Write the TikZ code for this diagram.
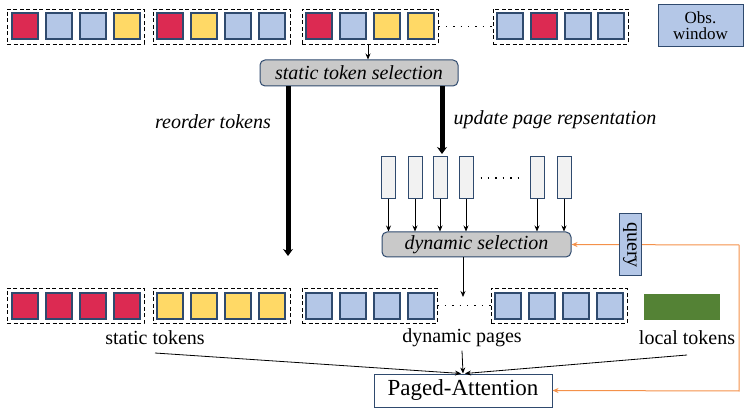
\documentclass[tikz,border=0pt]{standalone}
\usepackage{fontspec}
\setmainfont{Liberation Serif}
\usetikzlibrary{arrows.meta,calc}
\definecolor{tred}{HTML}{DC2A52}
\definecolor{tyel}{HTML}{FFD966}
\definecolor{tblu}{HTML}{B4C7E7}
\definecolor{tbord}{HTML}{2F4A6E}
\definecolor{selgray}{HTML}{C9C9C9}
\definecolor{pagegray}{HTML}{F2F2F2}
\definecolor{tgreen}{HTML}{548235}
\definecolor{qorange}{HTML}{F4914A}
\tikzset{
  tok/.style={draw=tbord, line width=1.1pt, minimum width=26pt, minimum height=26pt, inner sep=0pt},
  grp/.style={draw, line width=0.9pt, dash pattern=on 4pt off 2.5pt, inner sep=0pt, minimum height=35pt},
  selbox/.style={draw=tbord, fill=selgray, rounded corners=5pt, line width=1pt, inner sep=0pt, font=\fontsize{20}{22}\selectfont\itshape},
  pagebox/.style={draw=tbord, fill=pagegray, line width=1pt, minimum width=14pt, minimum height=42pt, inner sep=0pt},
  arr/.style={-{Stealth[length=6pt,width=5pt]}, line width=0.8pt},
  thick arr/.style={-{Stealth[length=7pt,width=10pt]}, line width=5pt},
  oarr/.style={-{Stealth[length=6pt,width=5pt]}, line width=1pt, draw=qorange},
  dots/.style={line width=1.4pt, dash pattern=on 1.4pt off 6pt},
  lbl/.style={font=\fontsize{20}{22}\selectfont},
  ilbl/.style={font=\fontsize{20}{22}\selectfont\itshape},
}
\begin{document}
\begin{tikzpicture}[x=1pt,y=-1pt]
\useasboundingbox (0,0) rectangle (748,409);
% top row
\node[grp, minimum width=137pt] (tg1) at (75.5,26.5) {};
\node[grp, minimum width=137pt] (tg2) at (221.5,26.5) {};
\node[grp, minimum width=136pt] (tg3) at (370,26.5) {};
\node[grp, minimum width=135pt] (tg4) at (560.5,26.5) {};
\foreach \x/\c [count=\i] in {25/tred,59/tblu,93/tblu,127/tyel,170/tred,204/tyel,238/tblu,272/tblu,319/tred,353/tblu,387/tyel,421/tyel,510/tblu,544/tred,578/tblu,611/tblu}
  \node[tok, fill=\c] (t\i) at (\x,26) {};
\draw[dots] (tg3.east) -- (tg4.west);
% obs window
\node[draw=tbord, fill=tblu, line width=1pt, minimum width=85pt, minimum height=42pt, inner sep=0pt, align=center, font=\fontsize{17}{16}\selectfont] (obs) at (700.5,26) {Obs.\\window};
% static token selection
\node[selbox, minimum width=198pt, minimum height=26pt] (sts) at (359,73) {static token selection};
\coordinate (tg3b) at (368,44);
\draw[arr] (tg3b) -- (tg3b |- sts.north);
% thick arrows
\coordinate (leftend) at (288,256);
\coordinate (rightend) at (442,154);
\draw[thick arr] (sts.south -| leftend) -- (leftend);
\draw[thick arr] (sts.south -| rightend) -- (rightend);
\node[ilbl] (reo) at (213,122) {reorder tokens};
\node[ilbl] (upd) at (555,120) {update page repsentation};
% pages
\foreach \x [count=\i] in {388.5,415,440,466,537,564}
  \node[pagebox] (p\i) at (\x,178) {};
\draw[dots] ($(p4.east)+(7,0)$) -- ($(p5.west)+(-6,0)$);
% dynamic selection
\node[selbox, minimum width=189pt, minimum height=25pt] (dyn) at (476.5,244.5) {dynamic selection};
\foreach \i in {1,...,6}
  \draw[arr] (p\i.south) -- (p\i.south |- dyn.north);
% orange connectors
\coordinate (qr) at (739,245);
\coordinate (qb) at (739,391);
\draw[oarr] (qr) -- (dyn.east);
\node[draw=tbord, fill=tblu, line width=1pt, minimum width=22pt, minimum height=62pt, inner sep=0pt] (query) at (630,245) {};
\node[rotate=-90, font=\fontsize{20}{20}\selectfont] (qtext) at (query.center) {query};
% bottom row
\node[grp, minimum width=137pt] (bg1) at (75.5,305.5) {};
\node[grp, minimum width=137pt] (bg2) at (221.5,305.5) {};
\node[grp, minimum width=135pt] (bg3) at (369.5,305.5) {};
\node[grp, minimum width=136pt] (bg4) at (559,305.5) {};
\foreach \x/\c [count=\i] in {25/tred,59/tred,93/tred,127/tred,170/tyel,204/tyel,238/tyel,272/tyel,319/tblu,353/tblu,387/tblu,421/tblu,508/tblu,542/tblu,576/tblu,610/tblu}
  \node[tok, fill=\c] (b\i) at (\x,306) {};
\draw[dots] (bg3.east) -- (bg4.west);
\coordinate (dp) at (463,297);
\draw[arr] (dyn.south -| dp) -- (dp);
\node[draw=tgreen, fill=tgreen, minimum width=75pt, minimum height=25pt, inner sep=0pt] (loc) at (681.5,306.5) {};
\node[lbl] (stl) at (155,338) {static tokens};
\node[lbl] (dpl) at (462,338) {dynamic pages};
\node[lbl] (ltl) at (687,338) {local tokens};
% paged attention
\node[draw=tbord, line width=1pt, minimum width=178pt, minimum height=33pt, inner sep=0pt, font=\fontsize{23}{23}\selectfont] (pa) at (463,390.5) {Paged-Attention};
\coordinate (s1) at (155,353);
\coordinate (s3) at (687,355);
\draw[arr] (s1) -- ($(pa.north)+(-2,0)$);
\draw[arr] (dpl.south) -- (pa.north);
\draw[arr] (s3) -- ($(pa.north)+(2,0)$);
\draw[oarr] (qr) -- (qb) -- (pa.east);
\end{tikzpicture}
\end{document}
